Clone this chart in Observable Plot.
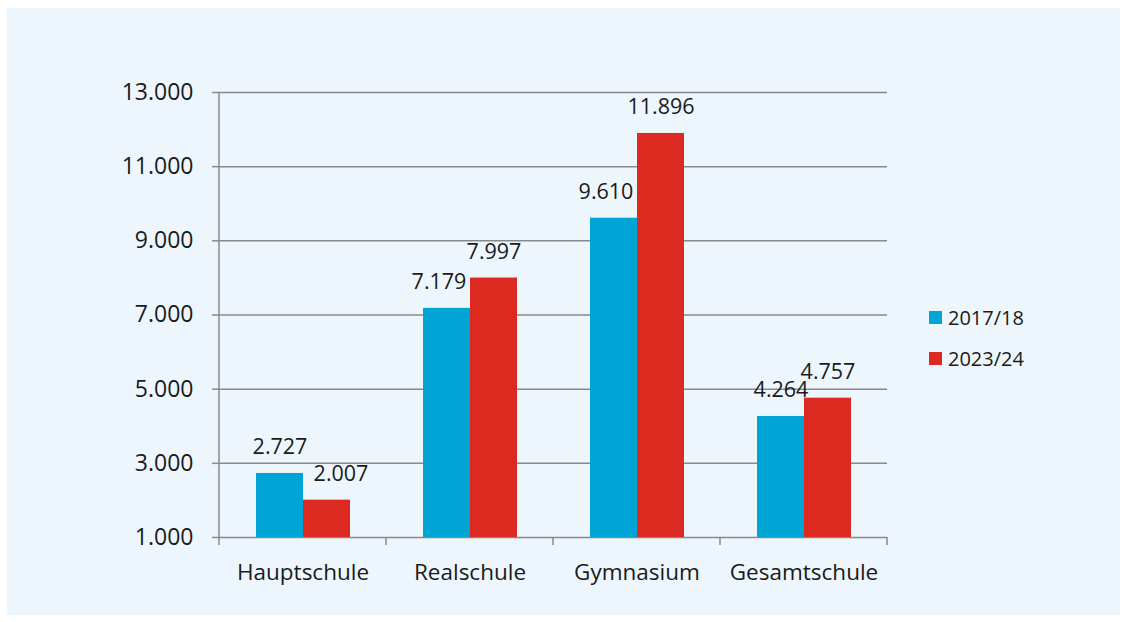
<!DOCTYPE html>
<html>
<head>
<meta charset="utf-8">
<script src="https://cdn.jsdelivr.net/npm/d3@7"></script>
<script src="https://cdn.jsdelivr.net/npm/@observablehq/plot@0.6"></script>
<style>
  html, body { margin: 0; padding: 0; background: #ffffff; }
  #panel {
    position: absolute; left: 7px; top: 8px; width: 1113px; height: 607px;
    background: #eef6fd; font-family: "Open Sans", sans-serif; color: #1a1a1a;
  }
  #panel svg { position: absolute; left: 0; top: 0; }
  .legend { position: absolute; left: 922px; top: 289px; font-size: 20px; }
  .legend .item { display: flex; align-items: center; height: 41px; }
  .legend .sw { width: 13px; height: 13px; margin-right: 6px; }
</style>
</head>
<body>
<div id="panel"></div>
<script>
const categories = ["Hauptschule", "Realschule", "Gymnasium", "Gesamtschule"];
const series = ["2017/18", "2023/24"];
const values2017 = [2727, 7179, 9610, 4264];
const values2023 = [2007, 7997, 11896, 4757];
const yTicks = [1000, 3000, 5000, 7000, 9000, 11000, 13000];
const colors = ["#00a5d5", "#dd2a21"];

const rows = [];
categories.forEach((c, i) => {
  rows.push({category: c, series: series[0], value: values2017[i], other: values2023[i]});
  rows.push({category: c, series: series[1], value: values2023[i], other: values2017[i]});
});

const fmt = v => d3.format(",")(v).replace(/,/g, ".");
const gray = "#898989";
const ink = "#1a1a1a";

// a label is pushed away from its neighbour bar when that bar rises past it
const crowded = d => d.other - d.value > 600;
const plain = rows.filter(d => !crowded(d));
const leftOut = rows.filter(d => crowded(d) && d.series === series[0]);
const rightOut = rows.filter(d => crowded(d) && d.series === series[1]);

const labelOpts = {
  fx: "category", x: "series", y: "value", text: d => fmt(d.value),
  dy: -26, lineAnchor: "middle", fontSize: 21.5, fill: ink
};

const chart = Plot.plot({
  width: 1113,
  height: 607,
  marginLeft: 211,
  marginRight: 232,
  marginTop: 84,
  marginBottom: 78,
  style: {background: "transparent", fontFamily: "'Open Sans', sans-serif", fontSize: "22px", color: ink, overflow: "visible"},
  fx: {domain: categories, padding: 0, label: null},
  x: {domain: series, paddingInner: 0, paddingOuter: 0.763, axis: null},
  y: {domain: [1000, 13000], label: null},
  color: {domain: series, range: colors},
  marks: [
    Plot.ruleY(yTicks, {stroke: gray, strokeWidth: 1.5}),
    Plot.barY(rows, {fx: "category", x: "series", y1: 1000, y2: "value", fill: "series"}),
    Plot.text(plain, labelOpts),
    Plot.text(leftOut, {...labelOpts, dx: -8}),
    Plot.text(rightOut, {...labelOpts, dx: 14}),
    Plot.axisY({ticks: yTicks, tickSize: 7, tickPadding: 19, tickFormat: fmt, stroke: gray, strokeWidth: 1.5, label: null, fontSize: 23, fill: ink}),
    Plot.axisFx({anchor: "bottom", tickSize: 0, tickPadding: 27, label: null, fontSize: 22.5, fill: ink})
  ]
});

document.getElementById("panel").appendChild(chart);

// axis lines and category boundary ticks drawn from the chart's own scales
const fx = chart.scale("fx");
const y = chart.scale("y");
const svg = d3.select(chart);
const yBottom = y.apply(1000), yTop = y.apply(13000);
const bounds = categories.map(c => fx.apply(c)).concat([fx.apply(categories[categories.length - 1]) + fx.bandwidth]);
const g = svg.append("g").attr("stroke", gray).attr("stroke-width", 1.5);
g.append("line").attr("x1", bounds[0]).attr("x2", bounds[0]).attr("y1", yTop).attr("y2", yBottom);
bounds.forEach(b => g.append("line").attr("x1", b).attr("x2", b).attr("y1", yBottom).attr("y2", yBottom + 8));

// legend
const legend = document.createElement("div");
legend.className = "legend";
series.forEach((s, i) => {
  const item = document.createElement("div");
  item.className = "item";
  item.innerHTML = `<span class="sw" style="background:${colors[i]}"></span><span>${s}</span>`;
  legend.appendChild(item);
});
document.getElementById("panel").appendChild(legend);
</script>
</body>
</html>
